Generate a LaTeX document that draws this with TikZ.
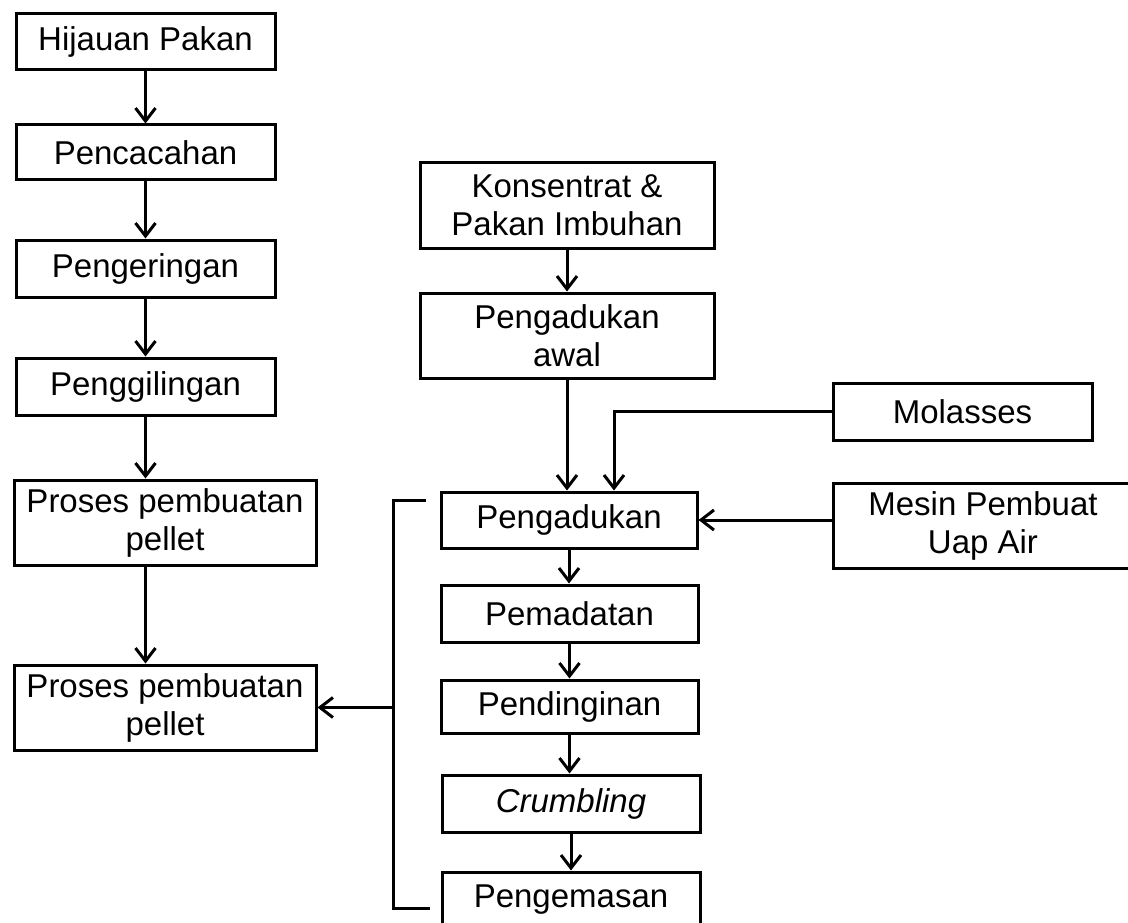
\documentclass[tikz,border=0pt]{standalone}
\usepackage{fontspec}
\setmainfont{Liberation Sans}
\usetikzlibrary{arrows.meta}

\begin{document}
\begin{tikzpicture}[x = 1pt, y = -1pt, > = {Straight Barb[length = 13pt, width = 20pt]},
	box/.style = {draw, line width = 3pt, inner sep = 0pt, align = center, font = \fontsize{33}{38}\selectfont},
	flow/.style = {->, line width = 3pt}]

	\clip (0, 0) rectangle (1128, 923);

	\node [box, minimum width = 259pt, minimum height = 56pt] (hijauan) at (145.5, 42) {Hijauan Pakan};
	\node [box, minimum width = 259pt, minimum height = 55pt] (pencacahan) at (145.5, 152.5) {Pencacahan};
	\node [box, minimum width = 259pt, minimum height = 57pt] (pengeringan) at (145.5, 268.5) {Pengeringan};
	\node [box, minimum width = 259pt, minimum height = 57pt] (penggilingan) at (145.5, 386.5) {Penggilingan};
	\node [box, minimum width = 302pt, minimum height = 85pt] (proses1) at (165, 522.5) {Proses pembuatan\\pellet};
	\node [box, minimum width = 302pt, minimum height = 85pt] (proses2) at (165, 707.5) {Proses pembuatan\\pellet};

	\node [box, minimum width = 294pt, minimum height = 85pt] (konsentrat) at (567, 205.5) {Konsentrat \&\\Pakan Imbuhan};
	\node [box, minimum width = 294pt, minimum height = 85pt] (awal) at (567, 335.5) {Pengadukan\\awal};
	\node [box, minimum width = 259pt, minimum height = 57pt] (molasses) at (962.5, 411.5) {Molasses};
	\node [box, minimum width = 300pt, minimum height = 85pt] (mesin) at (983, 525.5) {Mesin Pembuat\\Uap Air};

	\node [box, minimum width = 256pt, minimum height = 56pt] (pengadukan) at (569, 520) {Pengadukan};
	\node [box, minimum width = 257pt, minimum height = 57pt] (pemadatan) at (569.5, 613.5) {Pemadatan};
	\node [box, minimum width = 257pt, minimum height = 53pt] (pendinginan) at (569.5, 706.5) {Pendinginan};
	\node [box, minimum width = 258pt, minimum height = 57pt] (crumbling) at (571, 803.5) {\itshape Crumbling};
	\node [box, minimum width = 258pt, minimum height = 56pt] (pengemasan) at (571, 900) {Pengemasan};

	\draw [flow] (hijauan) -- (pencacahan);
	\draw [flow] (pencacahan) -- (pengeringan);
	\draw [flow] (pengeringan) -- (penggilingan);
	\draw [flow] (penggilingan.south) -- (penggilingan.south |- proses1.north);
	\draw [flow] (penggilingan.south |- proses1.south) -- (penggilingan.south |- proses2.north);

	\draw [flow] (konsentrat) -- (awal);
	\draw [flow] (awal.south) -- (awal.south |- pengadukan.north);
	\draw [flow] (molasses.west) -| ([xshift = 45pt] pengadukan.north);
	\draw [flow] (mesin.west |- pengadukan.east) -- (pengadukan.east);

	\draw [flow] (pengadukan.south) -- (pengadukan.south |- pemadatan.north);
	\draw [flow] (pemadatan.south) -- (pemadatan.south |- pendinginan.north);
	\draw [flow] (pendinginan.south) -- (pendinginan.south |- crumbling.north);
	\draw [flow] (crumbling.south) -- (crumbling.south |- pengemasan.north);

	\coordinate (brtop) at (426, 500);
	\coordinate (brbot) at (430, 908);
	\coordinate (split) at (393, 707.5);
	\draw [line width = 3pt] (brtop) -- (393, 500) -- (393, 908) -- (brbot);
	\draw [flow] (split) -- (proses2.east);

\end{tikzpicture}
\end{document}
